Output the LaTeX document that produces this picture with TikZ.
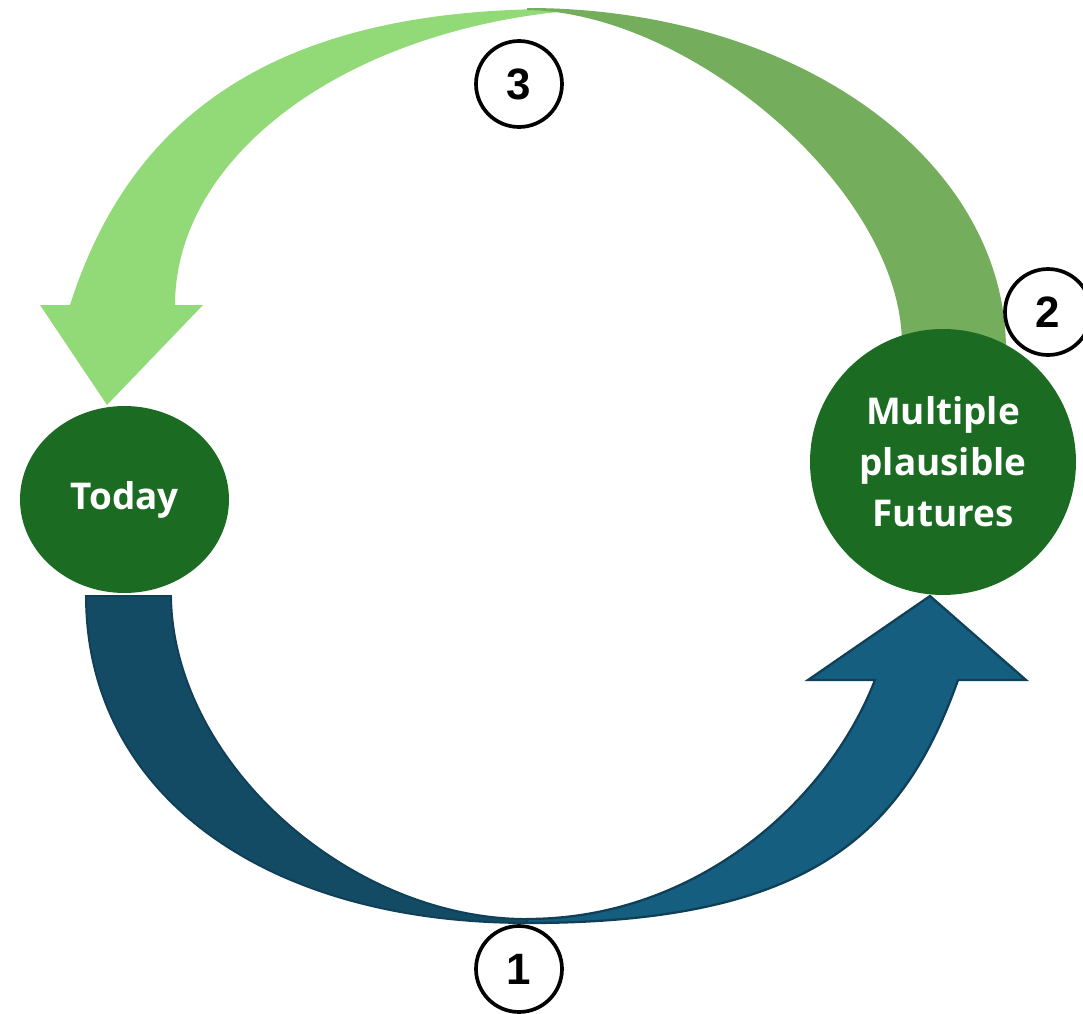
\documentclass[tikz,border=0pt]{standalone}
\usepackage{fontspec}
\setmainfont{Open Sans}
\newfontfamily\digitfont{Liberation Sans}
\usetikzlibrary{shapes.geometric}
\definecolor{lightgreen}{HTML}{92D977}
\definecolor{midgreen}{HTML}{74AD5C}
\definecolor{darkgreen}{HTML}{1B6B23}
\definecolor{blueback}{HTML}{134A64}
\definecolor{bluefront}{HTML}{165E80}
\definecolor{blueline}{HTML}{0F4058}
\tikzset{
  bigcircle/.style={circle, fill=darkgreen, minimum size=5.32cm, inner sep=0pt, text=white, align=center, font=\fontsize{21}{29}\selectfont\bfseries},
  todayellipse/.style={ellipse, fill=darkgreen, minimum width=4.18cm, minimum height=3.74cm, inner sep=0pt, text=white, font=\fontsize{21}{29}\selectfont\bfseries},
  numcircle/.style={circle, draw=black, line width=2.1pt, fill=white, minimum size=1.72cm, inner sep=0pt, font=\digitfont\fontsize{25}{25}\selectfont\bfseries},
  backblue/.style={fill=blueback, draw=blueline, line width=1.1pt, line join=miter},
  frontblue/.style={fill=bluefront, draw=blueline, line width=1.3pt, line join=miter},
}
\begin{document}
\begin{tikzpicture}[x=0.02cm, y=-0.02cm]
\useasboundingbox (0,0) rectangle (1083,1014);

% blue curved arrow: back (tail) part
\path[backblue] (86,596) .. controls (86,792.2) and (262.4,923) .. (527,923)
  -- (527,919) .. controls (349,919) and (173,762) .. (171,596) -- cycle;
% blue curved arrow: front (head) part
\path[frontblue] (527,923) .. controls (805,923) and (902,838) .. (958,680)
  -- (1026,680) -- (930,596) -- (808,680) -- (875,680)
  .. controls (828.2,800.9) and (697,919) .. (527,919) -- cycle;

% green curved arrow: front (head) part
\fill[lightgreen] (560,9) .. controls (265,8) and (127.8,124) .. (70,305)
  -- (40,305) -- (107,405) -- (203,305) -- (175,305)
  -- plot[domain=180:99, samples=80, variable=\t] ({632+457*cos(\t)},{305-297*sin(\t)}) -- cycle;
% green curved arrow: back (tail) part
\fill[midgreen] (527,8) .. controls (795,8) and (1006,158) .. (1006,350)
  -- (902,345) .. controls (902,190) and (690,12) .. (527,10) -- cycle;

% nodes
\node[todayellipse] (today) at (124.5,499.5) {Today};
\node[bigcircle] (futures) at (943,462) {Multiple\\plausible\\Futures};
\node[numcircle] (n3) at (519,84) {3};
\node[numcircle] (n1) at (519,969) {1};
\node[numcircle] (n2) at (1048,312) {2};
\end{tikzpicture}
\end{document}
